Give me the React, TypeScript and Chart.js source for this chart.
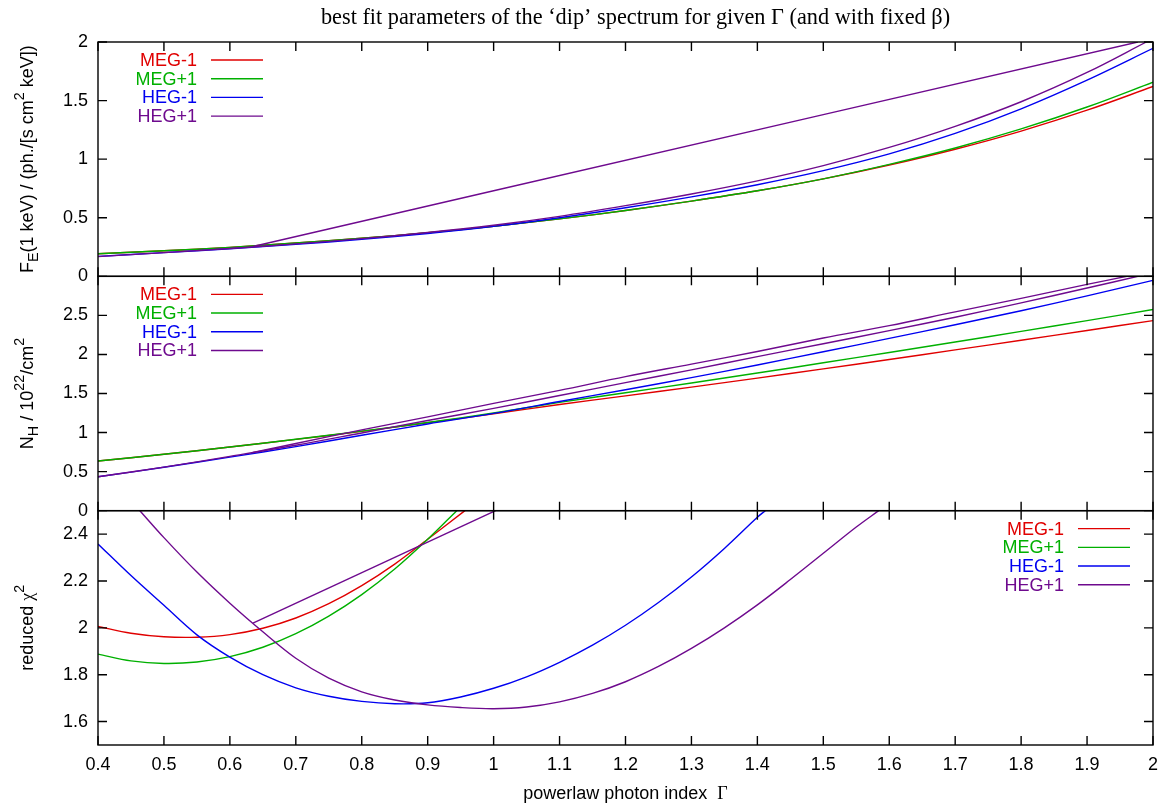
import { useEffect, useRef } from "react";
import { Chart, registerables } from "chart.js";

Chart.register(...registerables);

const SANS = '"Liberation Sans", Arial, Helvetica, sans-serif';
const SERIF = '"Liberation Serif", "Times New Roman", Times, serif';

const seriesLabels = ["MEG-1", "MEG+1", "HEG-1", "HEG+1"];
const seriesColors = ["#e00000", "#00b000", "#0000f0", "#6e0a8e"];

// tick positions of the shared x axis and of the three panels
const gammaTicks = [0.4, 0.5, 0.6, 0.7, 0.8, 0.9, 1, 1.1, 1.2, 1.3, 1.4, 1.5, 1.6, 1.7, 1.8, 1.9, 2];
const fluxTicks = [0, 0.5, 1, 1.5, 2];
const nhTicks = [0, 0.5, 1, 1.5, 2, 2.5];
const chiTicks = [1.6, 1.8, 2, 2.2, 2.4];

// ---- top panel: F_E(1 keV) ----
const gammaGrid = [0.4, 0.5, 0.6, 0.7, 0.8, 0.9, 1.0, 1.1, 1.2, 1.3, 1.4, 1.5, 1.6, 1.7, 1.8, 1.9, 2.0];
const fluxMegM1 = [0.193, 0.218, 0.247, 0.284, 0.325, 0.372, 0.428, 0.49, 0.562, 0.642, 0.73, 0.832, 0.95, 1.085, 1.24, 1.418, 1.62];
const fluxMegP1 = [0.193, 0.218, 0.247, 0.284, 0.325, 0.372, 0.428, 0.49, 0.562, 0.642, 0.73, 0.832, 0.955, 1.095, 1.258, 1.445, 1.657];
const fluxHegM1 = [0.17, 0.202, 0.236, 0.273, 0.316, 0.366, 0.426, 0.5, 0.585, 0.678, 0.782, 0.902, 1.045, 1.22, 1.43, 1.675, 1.946];
const gammaFluxHegP1 = [0.4, 0.5, 0.6, 0.7, 0.8, 0.9, 1.0, 1.1, 1.2, 1.3, 1.4, 1.5, 1.6, 1.7, 1.8, 1.9, 1.99];
const fluxHegP1 = [0.168, 0.202, 0.238, 0.277, 0.322, 0.374, 0.436, 0.512, 0.603, 0.703, 0.815, 0.945, 1.1, 1.28, 1.49, 1.74, 2.0];
// second HEG+1 solution branch
const gammaFluxHegP1Alt = [0.635, 1.0, 1.5, 1.977];
const fluxHegP1Alt = [0.255, 0.73, 1.38, 2.0];

// ---- middle panel: N_H ----
const nhMegM1 = [0.635, 0.722, 0.815, 0.912, 1.015, 1.125, 1.24, 1.36, 1.47, 1.582, 1.697, 1.815, 1.935, 2.058, 2.182, 2.307, 2.433];
const nhMegP1 = [0.635, 0.722, 0.815, 0.914, 1.018, 1.128, 1.25, 1.386, 1.51, 1.635, 1.762, 1.893, 2.025, 2.16, 2.295, 2.433, 2.575];
const nhHegM1 = [0.434, 0.555, 0.685, 0.82, 0.965, 1.11, 1.245, 1.397, 1.548, 1.703, 1.865, 2.035, 2.205, 2.38, 2.56, 2.75, 2.948];
const gammaNhHegP1 = [0.4, 0.5, 0.6, 0.7, 0.8, 0.9, 1.0, 1.1, 1.2, 1.3, 1.4, 1.5, 1.6, 1.7, 1.8, 1.9, 1.977];
const nhHegP1 = [0.434, 0.558, 0.695, 0.837, 0.995, 1.155, 1.309, 1.474, 1.639, 1.803, 1.972, 2.137, 2.305, 2.476, 2.66, 2.85, 3.0];
const gammaNhHegP1Alt = [0.635, 0.7, 0.8, 0.9, 1.0, 1.1, 1.2, 1.3, 1.4, 1.5, 1.6, 1.7, 1.8, 1.9, 1.96];
const nhHegP1Alt = [0.745, 0.86, 1.035, 1.2, 1.373, 1.54, 1.716, 1.876, 2.038, 2.21, 2.369, 2.545, 2.717, 2.897, 3.0];

// ---- bottom panel: reduced chi^2 ----
const gammaChiMegM1 = [0.4, 0.45, 0.5, 0.55, 0.6, 0.65, 0.7, 0.75, 0.8, 0.85, 0.9, 0.9565];
const chiMegM1 = [2.006, 1.977, 1.962, 1.96, 1.971, 1.998, 2.042, 2.103, 2.18, 2.272, 2.378, 2.5];
const gammaChiMegP1 = [0.4, 0.45, 0.5, 0.55, 0.6, 0.65, 0.7, 0.75, 0.8, 0.85, 0.9, 0.944];
const chiMegP1 = [1.888, 1.859, 1.848, 1.854, 1.877, 1.917, 1.975, 2.05, 2.142, 2.251, 2.378, 2.5];
const gammaChiHegM1 = [0.4, 0.45, 0.5, 0.55, 0.6, 0.65, 0.7, 0.75, 0.8, 0.85, 0.9, 0.95, 1.0, 1.05, 1.1, 1.15, 1.2, 1.25, 1.3, 1.35, 1.4, 1.412];
const chiHegM1 = [2.358, 2.223, 2.096, 1.97, 1.875, 1.8, 1.744, 1.708, 1.686, 1.676, 1.68, 1.705, 1.742, 1.791, 1.853, 1.926, 2.011, 2.108, 2.217, 2.339, 2.472, 2.5];
const gammaChiHegP1 = [0.4635, 0.5, 0.55, 0.6, 0.65, 0.7, 0.75, 0.8, 0.85, 0.9, 0.95, 1.0, 1.05, 1.1, 1.15, 1.2, 1.25, 1.3, 1.35, 1.4, 1.45, 1.5, 1.55, 1.584];
const chiHegP1 = [2.5, 2.385, 2.238, 2.105, 1.983, 1.87, 1.785, 1.727, 1.692, 1.671, 1.66, 1.655, 1.662, 1.684, 1.72, 1.77, 1.835, 1.912, 2.0, 2.098, 2.206, 2.318, 2.43, 2.5];
const gammaChiHegP1Alt = [0.635, 1.003];
const chiHegP1Alt = [2.02, 2.5];

const pts = (xs: number[], ys: number[]) => xs.map((x, i) => ({ x, y: ys[i] }));

function curve(series: number, axis: string, xs: number[], ys: number[], straight = false) {
  return {
    label: seriesLabels[series],
    data: pts(xs, ys),
    yAxisID: axis,
    borderColor: seriesColors[series],
    backgroundColor: seriesColors[series],
    borderWidth: 1.4,
    pointRadius: 0,
    pointHoverRadius: 0,
    fill: false,
    tension: straight ? 0 : 0.35,
    order: 10 - series,
  };
}

type Part = { t: string; serif?: boolean; pos?: "sub" | "sup" };

function drawRich(ctx: CanvasRenderingContext2D, parts: Part[], size: number, x: number, y: number, rotate: boolean) {
  const items = parts.map((p) => {
    const s = p.pos ? size * 0.8 : size;
    const font = `${s}px ${p.serif ? SERIF : SANS}`;
    ctx.font = font;
    const w = ctx.measureText(p.t).width;
    const dy = p.pos === "sub" ? size * 0.3 : p.pos === "sup" ? -size * 0.45 : 0;
    return { t: p.t, font, w, dy };
  });
  const total = items.reduce((a, b) => a + b.w, 0);
  ctx.save();
  ctx.translate(x, y);
  if (rotate) ctx.rotate(-Math.PI / 2);
  ctx.textAlign = "left";
  ctx.textBaseline = "alphabetic";
  ctx.fillStyle = "#000";
  let cx = -total / 2;
  for (const it of items) {
    ctx.font = it.font;
    ctx.fillText(it.t, cx, it.dy);
    cx += it.w;
  }
  ctx.restore();
}

const fluxTitle: Part[] = [
  { t: "F" }, { t: "E", pos: "sub" }, { t: "(1 keV) / (ph./[s cm" }, { t: "2", pos: "sup" }, { t: " keV])" },
];
const nhTitle: Part[] = [
  { t: "N" }, { t: "H", pos: "sub" }, { t: " / 10" }, { t: "22", pos: "sup" }, { t: "/cm" }, { t: "2", pos: "sup" },
];
const chiTitle: Part[] = [{ t: "reduced " }, { t: "χ", serif: true }, { t: "2", pos: "sup" }];
const xTitle: Part[] = [{ t: "powerlaw photon index  " }, { t: "Γ", serif: true }];
const mainTitle: Part[] = [
  { t: "best fit parameters of the ‘dip’ spectrum for given Γ (and with fixed β)", serif: true },
];

const TICK = 9;
const FONT_SIZE = 18;

const panelDecor = {
  id: "panelDecor",
  beforeDraw(chart: any) {
    const ctx = chart.ctx;
    ctx.save();
    ctx.fillStyle = "#fff";
    ctx.fillRect(0, 0, chart.width, chart.height);
    ctx.restore();
  },
  afterDraw(chart: any) {
    const ctx: CanvasRenderingContext2D = chart.ctx;
    const xs = chart.scales.x;
    const panels = [
      { s: chart.scales.yF, ticks: fluxTicks, title: fluxTitle, legend: "left" },
      { s: chart.scales.yN, ticks: nhTicks, title: nhTitle, legend: "left" },
      { s: chart.scales.yC, ticks: chiTicks, title: chiTitle, legend: "right" },
    ];
    const left = xs.left;
    const right = xs.right;
    ctx.save();
    ctx.strokeStyle = "#000";
    ctx.lineWidth = 1.4;
    for (const p of panels) {
      const top = p.s.top;
      const bottom = p.s.bottom;
      ctx.strokeRect(left, top, right - left, bottom - top);
      ctx.beginPath();
      for (const g of gammaTicks) {
        const px = xs.getPixelForValue(g);
        ctx.moveTo(px, bottom);
        ctx.lineTo(px, bottom - TICK);
        ctx.moveTo(px, top);
        ctx.lineTo(px, top + TICK);
      }
      for (const v of p.ticks) {
        const py = p.s.getPixelForValue(v);
        ctx.moveTo(left, py);
        ctx.lineTo(left + TICK, py);
        ctx.moveTo(right, py);
        ctx.lineTo(right - TICK, py);
      }
      ctx.stroke();

      // axis title, rotated, centred on the panel
      drawRich(ctx, p.title, FONT_SIZE, 32.5, (top + bottom) / 2, true);

      // key: coloured text followed by a line sample
      const textRight = p.legend === "left" ? left + 99 : right - 89;
      const lineStart = textRight + 14;
      const lineEnd = textRight + 66;
      ctx.font = `${FONT_SIZE}px ${SANS}`;
      ctx.textAlign = "right";
      ctx.textBaseline = "middle";
      seriesLabels.forEach((lab, i) => {
        const y = top + 18 + i * 18.7;
        ctx.fillStyle = seriesColors[i];
        ctx.fillText(lab, textRight, y + 1);
        ctx.strokeStyle = seriesColors[i];
        ctx.lineWidth = 1.4;
        ctx.beginPath();
        ctx.moveTo(lineStart, y);
        ctx.lineTo(lineEnd, y);
        ctx.stroke();
      });
      ctx.strokeStyle = "#000";
      ctx.lineWidth = 1.4;
    }
    drawRich(ctx, xTitle, FONT_SIZE, (left + right) / 2, 799, false);
    drawRich(ctx, mainTitle, 22.3, (left + right) / 2 + 10, 24, false);
    ctx.restore();
  },
};

const fmt = (v: number) => String(parseFloat(Number(v).toFixed(3)));

function yScale(ticks: number[], min: number, max: number) {
  return {
    type: "linear",
    position: "left",
    stack: "panels",
    stackWeight: 1,
    min,
    max,
    offset: false,
    grid: { display: false, drawTicks: false },
    border: { display: false },
    afterBuildTicks: (s: any) => {
      s.ticks = ticks.map((value) => ({ value }));
    },
    afterFit: (s: any) => {
      s.width = 98;
    },
    ticks: {
      padding: 10,
      color: "#000",
      font: { family: SANS, size: FONT_SIZE },
      callback: (v: any) => fmt(v),
    },
  };
}

export default function App() {
  const ref = useRef<HTMLCanvasElement | null>(null);

  useEffect(() => {
    if (!ref.current) return;
    const chart = new Chart(ref.current, {
      type: "line",
      data: {
        datasets: [
          curve(0, "yF", gammaGrid, fluxMegM1),
          curve(1, "yF", gammaGrid, fluxMegP1),
          curve(2, "yF", gammaGrid, fluxHegM1),
          curve(3, "yF", gammaFluxHegP1, fluxHegP1),
          curve(3, "yF", gammaFluxHegP1Alt, fluxHegP1Alt, true),
          curve(0, "yN", gammaGrid, nhMegM1),
          curve(1, "yN", gammaGrid, nhMegP1),
          curve(2, "yN", gammaGrid, nhHegM1),
          curve(3, "yN", gammaNhHegP1, nhHegP1),
          curve(3, "yN", gammaNhHegP1Alt, nhHegP1Alt),
          curve(0, "yC", gammaChiMegM1, chiMegM1),
          curve(1, "yC", gammaChiMegP1, chiMegP1),
          curve(2, "yC", gammaChiHegM1, chiHegM1),
          curve(3, "yC", gammaChiHegP1, chiHegP1),
          curve(3, "yC", gammaChiHegP1Alt, chiHegP1Alt, true),
        ] as any,
      },
      options: {
        animation: false,
        responsive: false,
        events: [],
        layout: { padding: { top: 42, right: 11, left: 0, bottom: 0 } },
        plugins: { legend: { display: false }, title: { display: false }, tooltip: { enabled: false } },
        scales: {
          x: {
            type: "linear",
            position: "bottom",
            min: 0.4,
            max: 2,
            grid: { display: false, drawTicks: false },
            border: { display: false },
            afterBuildTicks: (s: any) => {
              s.ticks = gammaTicks.map((value) => ({ value }));
            },
            afterFit: (s: any) => {
              s.height = 60;
            },
            ticks: {
              padding: 9,
              autoSkip: false,
              maxRotation: 0,
              color: "#000",
              font: { family: SANS, size: FONT_SIZE },
              callback: (v: any) => fmt(v),
            },
          },
          yC: yScale(chiTicks, 1.5, 2.5),
          yN: yScale(nhTicks, 0, 3),
          yF: yScale(fluxTicks, 0, 2),
        } as any,
      },
      plugins: [panelDecor],
    });
    return () => chart.destroy();
  }, []);

  return (
    <div style={{ position: "fixed", left: 0, top: 0, width: 1167, height: 805, background: "#fff" }}>
      <canvas ref={ref} width={1167} height={805} style={{ display: "block" }} />
    </div>
  );
}
